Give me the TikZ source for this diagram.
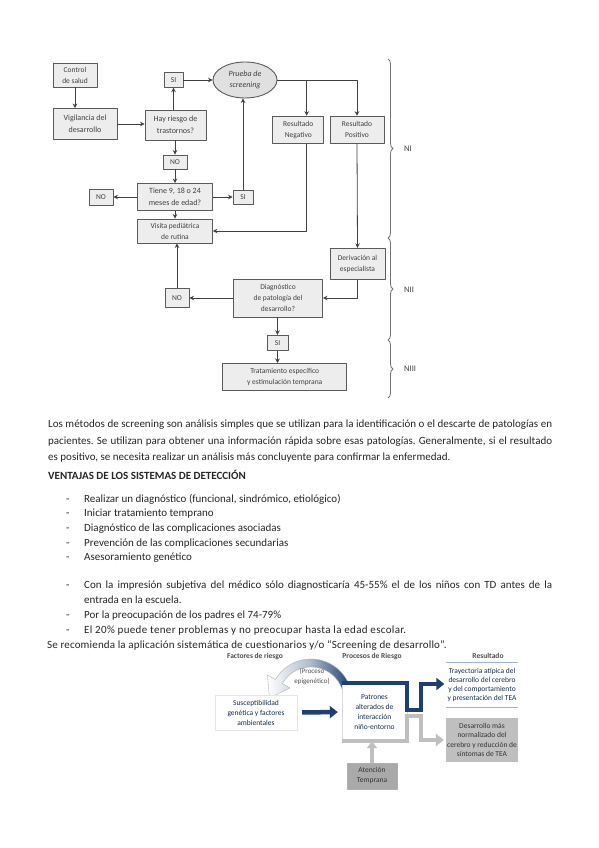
\documentclass[tikz,border=0pt]{standalone}
\usepackage{fontspec}
\setmainfont{Carlito}
\usetikzlibrary{shapes.geometric, arrows.meta, decorations.pathreplacing}
\frenchspacing

\definecolor{borde}{HTML}{5A5A5A}
\definecolor{relleno}{HTML}{EDEDED}
\definecolor{marino}{HTML}{1F3F6E}
\definecolor{grisclaro}{HTML}{BFBFBF}
\definecolor{grismedio}{HTML}{A9A9A9}
\definecolor{azulclaro}{HTML}{9DB3D6}

\tikzset{
  caja/.style={draw=borde, fill=relleno, line width=0.9pt, align=center, inner sep=1pt,
    text=black!75, font=\fontsize{8}{12}\selectfont},
  chica/.style={caja, font=\fontsize{7.5}{11}\selectfont},
  flecha/.style={->, draw=black!75, line width=0.8pt},
  llave/.style={decorate, decoration={brace, amplitude=5pt}, draw=black!55, line width=0.8pt},
  nivel/.style={anchor=west, inner sep=0pt, text=black!75, font=\fontsize{8.5}{10}\selectfont},
  texto/.style={anchor=base west, inner sep=0pt, text=black!85, font=\fontsize{11}{13}\selectfont},
  encab/.style={inner sep=0pt, text=black!70, font=\bfseries\fontsize{7.5}{9}\selectfont},
  suave/.style={align=center, inner sep=1pt, text=marino!70!black, font=\fontsize{7.5}{10}\selectfont},
  gruesa/.style={line width=4.5pt, -{Triangle[width=12pt,length=8pt]}}
}

\begin{document}
\begin{tikzpicture}[x=1pt, y=-1pt, >={Stealth[length=4.5pt,width=4.5pt]}, line join=round]
  \fill[white] (0,0) rectangle (599,848);
  \useasboundingbox (0,0) rectangle (599,848);

  % --- Diagrama de flujo ---
  \node[chica, minimum width=44pt, minimum height=24pt] (ctrl) at (75,75) {Control\\de salud};
  \node[caja, minimum width=64pt, minimum height=31pt] (vig) at (85,124) {Vigilancia del\\desarrollo};
  \node[caja, minimum width=61pt, minimum height=30pt] (hay) at (175.5,125) {Hay riesgo de\\trastornos?};
  \node[chica, minimum width=19pt, minimum height=14.5pt] (si1) at (173.5,80) {SI};
  \node[caja, ellipse, minimum width=64pt, minimum height=36pt, fill=black!12, font=\itshape\fontsize{8}{11}\selectfont] (pru) at (245,80) {Prueba de\\screening};
  \node[chica, minimum width=24pt, minimum height=14pt] (no1) at (175,162) {NO};
  \node[caja, minimum width=75pt, minimum height=27pt] (tie) at (175,197) {Tiene 9, 18 o 24\\meses de edad?};
  \node[chica, minimum width=24pt, minimum height=16pt] (no2) at (101,197) {NO};
  \node[chica, minimum width=20pt, minimum height=14pt] (si2) at (243,197) {SI};
  \node[chica, minimum width=75pt, minimum height=24pt] (vis) at (175,231) {Visita pediátrica\\de rutina};
  \node[chica, minimum width=51pt, minimum height=27pt] (neg) at (298.3,129.7) {Resultado\\Negativo};
  \node[chica, minimum width=54pt, minimum height=27pt] (pos) at (357,129.7) {Resultado\\Positivo};
  \node[chica, minimum width=55pt, minimum height=31pt] (der) at (357.5,263.8) {Derivación al\\especialista};
  \node[chica, minimum width=89pt, minimum height=38pt] (dia) at (278,298) {Diagnóstico\\de patología del\\desarrollo?};
  \node[chica, minimum width=24pt, minimum height=18.5pt] (no3) at (177,298) {NO};
  \node[chica, minimum width=21pt, minimum height=15.5pt] (si3) at (277.5,343) {SI};
  \node[chica, minimum width=124pt, minimum height=26.5pt] (tra) at (284.7,376.7) {Tratamiento específico\\y estimulación temprana};

  % Conectores
  \coordinate (jn) at (306.7,80);
  \draw[flecha] (ctrl) -- (ctrl |- vig.north);
  \draw[flecha] (vig.east) -- (hay.west |- vig.east);
  \draw[flecha] (hay.north -| si1) -- (si1.south);
  \draw[flecha] (si1.east) -- (pru.west);
  \draw[flecha] (hay.south -| no1) -- (no1.north);
  \draw[flecha] (no1.south) -- (no1 |- tie.north);
  \draw[flecha] (tie.west) -- (no2.east);
  \draw[flecha] (tie.east) -- (si2.west);
  \draw[flecha] (si2.north) -- (si2 |- pru.south);
  \draw[flecha] (tie.south) -- (vis.north);
  \draw[flecha] (pru.east) -- (pos.north |- pru.east) -- (pos.north);
  \draw[flecha] (jn) -- (jn |- neg.north);
  \draw[flecha] (jn |- neg.south) -- (jn |- vis.east) -- (vis.east);
  \draw[flecha] (pos.south) -- (der.north);
  \draw[flecha] (der.south) -- (der.south |- dia.east) -- (dia.east);
  \draw[flecha] (dia.west) -- (no3.east);
  \draw[flecha] (no3.north) -- (no3 |- vis.south);
  \draw[flecha] (dia.south -| si3) -- (si3.north);
  \draw[flecha] (si3.south) -- (si3 |- tra.north);

  % Llaves de niveles
  \draw[llave] (388,59) -- (388,238);
  \draw[llave] (388,238) -- (388,340);
  \draw[llave] (388,340) -- (388,398);
  \node[nivel] (n1) at (404,149) {NI};
  \node[nivel] (n2) at (404,290) {NII};
  \node[nivel] (n3) at (404,369) {NIII};

  % --- Texto ---
  \def\ancho{504pt}
  \node[texto] (p1) at (48,427.5) {\makebox[\ancho][s]{Los métodos de screening son análisis simples que se utilizan para la identificación o el descarte de patologías en}};
  \node[texto] (p2) at (48,444.8) {\makebox[\ancho][s]{pacientes. Se utilizan para obtener una información rápida sobre esas patologías. Generalmente, si el resultado}};
  \node[texto] (p3) at (48,460.8) {es positivo, se necesita realizar un análisis más concluyente para confirmar la enfermedad.};
  \node[texto, font=\bfseries\fontsize{11}{13}\selectfont] (tit) at (48,479.3) {VENTAJAS DE LOS SISTEMAS DE DETECCIÓN};
  \node[texto] (v1) at (66,502.2) {\makebox[18pt][l]{-}Realizar un diagnóstico (funcional, sindrómico, etiológico)};
  \node[texto] (v2) at (66,516.8) {\makebox[18pt][l]{-}Iniciar tratamiento temprano};
  \node[texto] (v3) at (66,531.8) {\makebox[18pt][l]{-}Diagnóstico de las complicaciones asociadas};
  \node[texto] (v4) at (66,546.8) {\makebox[18pt][l]{-}Prevención de las complicaciones secundarias};
  \node[texto] (v5) at (66,560.8) {\makebox[18pt][l]{-}Asesoramiento genético};
  \node[texto] (c1) at (66,588.5) {\makebox[18pt][l]{-}\makebox[468pt][s]{Con la impresión subjetiva del médico sólo diagnosticaría 45-55\% el de los niños con TD antes de la}};
  \node[texto] (c2) at (84,603.5) {entrada en la escuela.};
  \node[texto] (c3) at (66,618.5) {\makebox[18pt][l]{-}Por la preocupación de los padres el 74-79\%};
  \node[texto] (c4) at (66,633.5) {\makebox[18pt][l]{-}{\addfontfeature{LetterSpace=3}El 20\% puede tener problemas y no preocupar hasta la edad escolar.}};
  \node[texto] (rec) at (47,648.5) {\addfontfeature{LetterSpace=1.5}Se recomienda la aplicación sistemática de cuestionarios y/o “Screening de desarrollo”.};

  % --- Diagrama de factores ---
  \node[encab] (hfac) at (255,656) {Factores de riesgo};
  \node[encab] (hpro) at (372,656) {Procesos de Riesgo};
  \node[encab] (hres) at (488,656) {Resultado};

  % Banda curva del proceso epigenético
  \def\cx{311}\def\cy{700}
  \shadedraw[left color=white, right color=marino, middle color=marino!35, draw=black!30, line width=0.4pt]
    plot[domain=-10:-150, samples=30] ({\cx+41*cos(\x)},{\cy+41*sin(\x)})
    -- (267.5,675) -- (269.5,698) -- (290,688)
    -- plot[domain=-150:-10, samples=30] ({\cx+33*cos(\x)},{\cy+33*sin(\x)}) -- cycle;
  \node[suave, text=black!70, font=\fontsize{7}{10}\selectfont] (epi) at (312,677) {(Proceso\\epigenético)};

  \node[suave, draw=black!10, fill=white, minimum width=82pt, minimum height=35pt] (sus) at (256,712.5) {Susceptibilidad\\genética y factores\\ambientales};
  \node[suave, draw=black!15, fill=white, minimum width=65pt, minimum height=58pt] (pat) at (374.5,712) {Patrones\\alterados de\\interacción\\niño-entorno};
  \node[suave, minimum width=70pt, minimum height=44pt, font=\fontsize{7.5}{9}\selectfont] (tray) at (482,685) {Trayectoria atípica del\\desarrollo del cerebro\\y del comportamiento\\y presentación del TEA};
  \node[suave, fill=grisclaro, text=black!80, minimum width=70pt, minimum height=44pt, font=\fontsize{7.5}{9.5}\selectfont] (des) at (482,740) {Desarrollo más\\normalizado del\\cerebro y reducción de\\síntomas de TEA};
  \node[suave, fill=grismedio, draw=azulclaro, line width=1pt, text=black!80, minimum width=50pt, minimum height=26pt] (ate) at (372,776) {Atención\\Temprana};
  \draw[azulclaro, line width=0.8pt] (tray.north west) -- (tray.north east);
  \draw[azulclaro, line width=0.8pt] (tray.south west) -- (tray.south east);

  % Flechas gruesas
  \coordinate (codo1) at (421,710);
  \coordinate (codo2) at (421,684);
  \coordinate (codo3) at (421,716);
  \coordinate (codo4) at (421,740);
  \draw[gruesa, marino, shorten <=5pt, shorten >=4pt] (sus.east) -- (pat.west);
  \draw[gruesa, marino, line join=miter] (pat.north west) -- (pat.north east) -- (pat.east |- codo1) -- (codo1) -- (codo2) -- ([xshift=-2pt]tray.west |- codo2);
  \draw[gruesa, grisclaro, line join=miter] (pat.south west) -- (pat.south east) -- (pat.east |- codo3) -- (codo3) -- (codo4) -- ([xshift=-2pt]des.west |- codo4);
  \draw[gruesa, grisclaro, -{Triangle[width=10pt,length=7pt]}] (ate.north) -- (ate.north |- pat.south);
\end{tikzpicture}
\end{document}
